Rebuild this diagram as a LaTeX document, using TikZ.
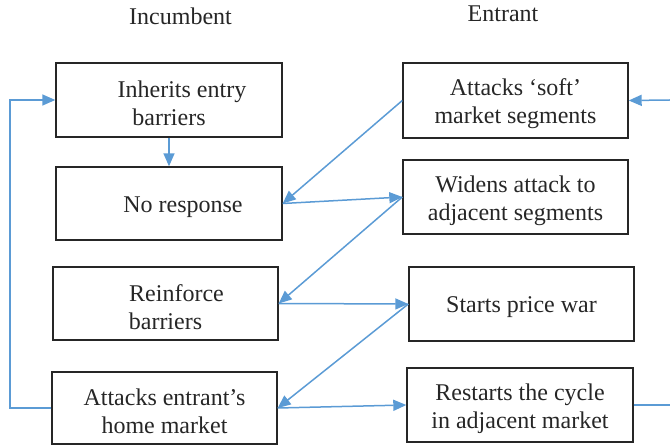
\documentclass[tikz,border=0pt]{standalone}
\usepackage{fontspec}
\setmainfont{Liberation Serif}
\usetikzlibrary{arrows.meta}
\definecolor{flowblue}{HTML}{5B9BD5}
\begin{document}
\begin{tikzpicture}[x=1pt,y=-1pt,
  stage/.style={draw=black!85,line width=1.4pt,rectangle,inner sep=0pt},
  caption/.style={inner sep=0pt,align=center,
    font=\fontsize{24}{28}\selectfont,text=black!85},
  heading/.style={anchor=base,inner sep=0pt,font=\fontsize{24}{28}\selectfont,text=black!85},
  link/.style={draw=flowblue,line width=1.5pt,-{Triangle[length=13pt,width=11pt]}},
  plainlink/.style={draw=flowblue,line width=1.5pt}]
\useasboundingbox (0,0) rectangle (670,446);

% column headings
\node[heading] (hinc) at (180.5,25) {Incumbent};
\node[heading] (hent) at (503,22) {Entrant};

% incumbent column
\node[stage,minimum width=226pt,minimum height=74pt] (inherit) at (169,100) {};
\node[stage,minimum width=226pt,minimum height=73pt] (noresp) at (169,203.5) {};
\node[stage,minimum width=225pt,minimum height=73pt] (reinf) at (165.5,303.5) {};
\node[stage,minimum width=225pt,minimum height=72pt] (home) at (164.5,408) {};

% entrant column
\node[stage,minimum width=225pt,minimum height=75pt] (soft) at (515.5,100.5) {};
\node[stage,minimum width=225pt,minimum height=74pt] (widen) at (515.5,197) {};
\node[stage,minimum width=225pt,minimum height=74pt] (price) at (521.5,304) {};
\node[stage,minimum width=226pt,minimum height=74pt] (restart) at (520,405) {};

% box texts, set a little below each box centre
\node[caption] (inheritT) at ([yshift=-3.5pt]inherit.center)
  {\hspace*{26pt}Inherits entry\\barriers};
\node[caption] (norespT) at ([yshift=-3.5pt]noresp.center)
  {\hspace*{28pt}No response};
\node[caption] (reinfT) at ([yshift=-3.5pt]reinf.center)
  {\hspace*{22pt}Reinforce\\barriers};
\node[caption] (homeT) at ([yshift=-3.5pt]home.center)
  {Attacks entrant’s\\home market};
\node[caption] (softT) at ([yshift=-3.5pt]soft.center)
  {Attacks ‘soft’\\market segments};
\node[caption] (widenT) at ([yshift=-3.5pt]widen.center)
  {Widens attack to\\adjacent segments};
\node[caption] (priceT) at ([yshift=-3.5pt]price.center)
  {Starts price war};
\node[caption] (restartT) at ([yshift=-3.5pt]restart.center)
  {Restarts the cycle\\in adjacent market};

% free ends at the margins
\coordinate (inR) at (670,100);
\coordinate (outR) at (670,405);
\coordinate (loopL) at (10,408);

% moves and responses
\draw[link] (inherit.south) -- (noresp.north);
\draw[link] (soft.west) -- (noresp.east);
\draw[link] (noresp.east) -- (widen.west);
\draw[link] (widen.west) -- (reinf.east);
\draw[link] (reinf.east) -- (price.west);
\draw[link] (price.west) -- (home.east);
\draw[link] (home.east) -- (restart.west);
\draw[plainlink] (restart.east) -- (outR);
\draw[link] (inR) -- (soft.east);
\draw[link] (home.west) -- (loopL) |- (inherit.west);
\end{tikzpicture}
\end{document}
